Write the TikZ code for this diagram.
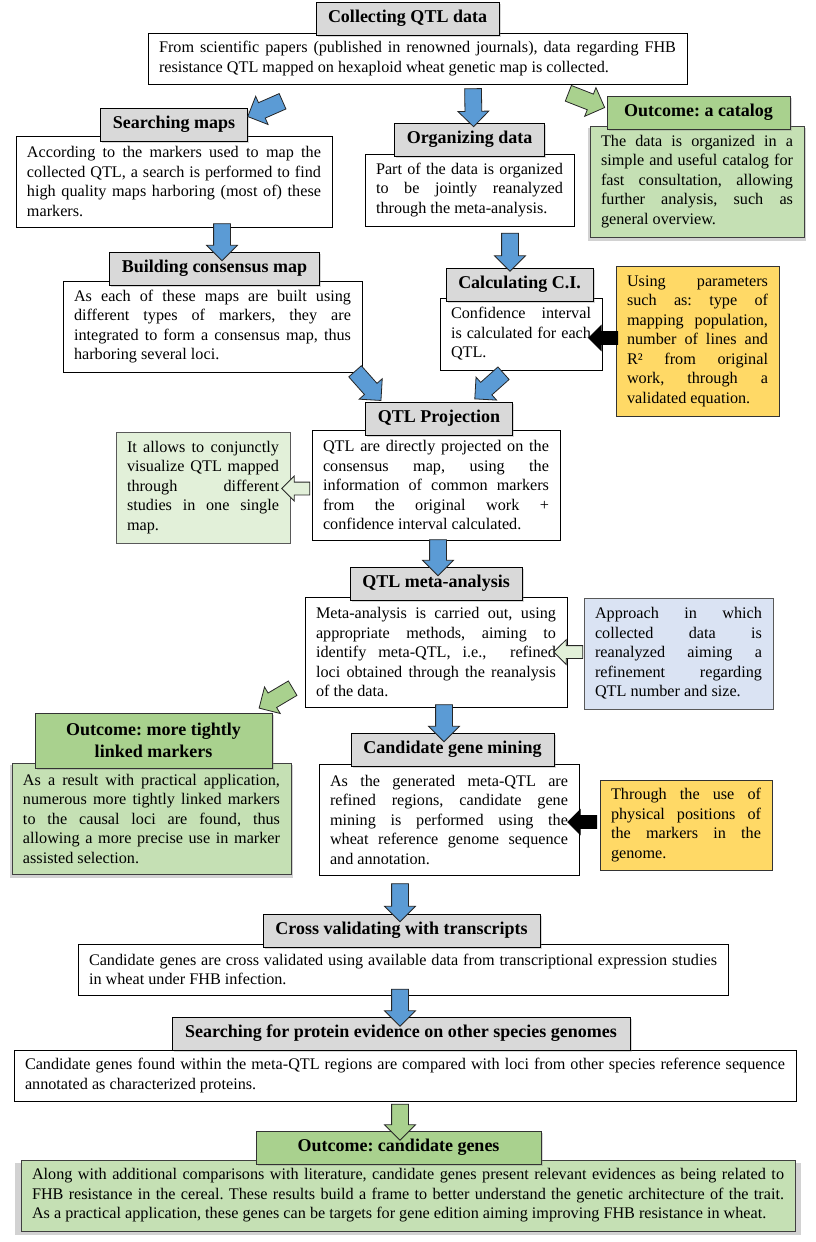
\documentclass[tikz,border=0pt]{standalone}
\usepackage{fontspec}
\setmainfont{Liberation Serif}
\usetikzlibrary{positioning,shapes.arrows,shadows}
\hyphenpenalty=10000
\exhyphenpenalty=10000
\tolerance=9999
\emergencystretch=30pt
\frenchspacing

\definecolor{headgray}{HTML}{D9D9D9}
\definecolor{outgreen}{HTML}{A9D18E}
\definecolor{catgreen}{HTML}{C5E0B4}
\definecolor{notegreen}{HTML}{E2F0D9}
\definecolor{noteblue}{HTML}{DAE3F3}
\definecolor{noteyellow}{HTML}{FFD966}
\definecolor{arrowblue}{HTML}{5B9BD5}

\tikzset{
  body/.style={draw=black, line width=1pt, fill=white, inner xsep=11pt, inner ysep=1pt,
    align=justify, font={\fontsize{16.2}{19.5}\selectfont}},
  outbody/.style={body, fill=catgreen, draw=black!75,
    drop shadow={opacity=.35, shadow xshift=0pt, shadow yshift=-3pt, shadow scale=1.015}},
  notebox/.style={body, draw=black!65},
  head/.style={draw=black, line width=1pt, fill=headgray, inner xsep=12pt, inner ysep=1pt,
    minimum height=33pt, align=center, font={\fontsize{18}{21.5}\selectfont\bfseries},
    drop shadow={opacity=.3, shadow xshift=1.5pt, shadow yshift=-1.5pt}},
  outhead/.style={head, fill=outgreen, draw=black!80},
  fatarrow/.style={single arrow, draw=black!85, line width=.8pt, inner sep=0pt, inner ysep=8pt,
    single arrow head extend=7pt, single arrow tip angle=90, single arrow head indent=0pt,
    minimum width=0pt, midway, sloped, allow upside down},
  bluearrow/.style={fatarrow, fill=arrowblue},
  greenarrow/.style={fatarrow, fill=outgreen},
  thinarrow/.style={fatarrow, inner ysep=6pt, single arrow head extend=6pt},
  blackarrow/.style={thinarrow, fill=black, draw=black},
  hollowarrow/.style={thinarrow, fill=notegreen},
}

\begin{document}
\begin{tikzpicture}[x=1pt,y=-1pt]
  \path[fill=white] (0,0) rectangle (816,1242);

  % collecting
  \node[body, text width=517pt, minimum height=51pt] (collect) at (417.5,58.5)
    {From scientific papers (published in renowned journals), data regarding FHB resistance QTL mapped on hexaploid wheat genetic map is collected.};
  \node[head, minimum width=181pt, above=-3pt of collect.north, xshift=-10pt] (collecthead) {Collecting QTL data};

  % three branches
  \node[body, text width=294pt, minimum height=91pt] (smap) at (174,181.5)
    {According to the markers used to map the collected QTL, a search is performed to find high quality maps harboring (most of) these markers.};
  \node[head, minimum width=147pt, above=-6pt of smap.north] (smaphead) {Searching maps};

  \node[body, text width=187pt, minimum height=72pt] (org) at (469.5,190)
    {Part of the data is organized to be jointly reanalyzed through the meta-analysis.};
  \node[head, minimum width=150pt, above=-3pt of org.north] (orghead) {Organizing data};

  \node[outbody, text width=192pt, minimum height=111pt] (catalog) at (697,181.5)
    {The data is organized in a simple and useful catalog for fast consultation, allowing further analysis, such as general overview.};
  \node[outhead, minimum width=183pt, above=-4pt of catalog.north, xshift=1.5pt] (cathead) {Outcome: a catalog};

  % consensus and C.I.
  \node[body, text width=277pt, minimum height=91pt] (build) at (212.5,326.5)
    {As each of these maps are built using different types of markers, they are integrated to form a consensus map, thus harboring several loci.};
  \node[head, minimum width=209pt, above=-5pt of build.north, xshift=2pt] (buildhead) {Building consensus map};

  \node[body, text width=140pt, minimum height=72pt] (ci) at (521,334)
    {Confidence interval is calculated for each QTL.};
  \node[head, minimum width=147pt, above=-4pt of ci.north, xshift=-1.5pt] (cihead) {Calculating C.I.};

  \node[notebox, fill=noteyellow, draw=black!80, text width=141pt, minimum height=150pt] (yel1) at (697.5,341)
    {Using parameters such as: type of mapping population, number of lines and R² from original work, through a validated equation.};

  % projection
  \node[body, text width=226pt, minimum height=110pt] (proj) at (436,485)
    {QTL are directly projected on the\linebreak consensus map, using the\linebreak information of common markers\linebreak from the original work +\linebreak confidence interval calculated.};
  \node[head, minimum width=146pt, above=-6pt of proj.north, xshift=3pt] (projhead) {QTL Projection};

  \node[notebox, fill=notegreen, text width=152pt, minimum height=111pt] (note) at (203,487.5)
    {It allows to conjunctly visualize QTL mapped through different studies in one single map.};

  % meta-analysis
  \node[body, text width=240pt, minimum height=110pt] (meta) at (436,652)
    {Meta-analysis is carried out, using appropriate methods, aiming to identify meta-QTL, i.e.,~ refined\linebreak loci obtained through the reanalysis\linebreak of the data.};
  \node[head, minimum width=172pt, above=-4pt of meta.north] (metahead) {QTL meta-analysis};

  \node[notebox, fill=noteblue, text width=167pt, minimum height=111pt] (bnote) at (678.5,653.5)
    {Approach in which collected data is reanalyzed aiming a refinement regarding QTL number and size.};

  % markers and candidates
  \node[outbody, text width=257pt, minimum height=111pt] (tight) at (151.5,818.5)
    {As a result with practical application, numerous more tightly linked markers to the causal loci are found, thus allowing a more precise use in marker assisted selection.};
  \node[outhead, minimum width=237pt, minimum height=55pt, above=-6pt of tight.north, xshift=2pt] (tighthead) {Outcome: more tightly\\linked markers};

  \node[body, text width=238pt, minimum height=111pt] (cand) at (449,819.5)
    {As the generated meta-QTL are refined regions, candidate gene mining is performed using the\linebreak wheat reference genome sequence and annotation.};
  \node[head, minimum width=203pt, above=-3pt of cand.north, xshift=3.5pt] (candhead) {Candidate gene mining};

  \node[notebox, fill=noteyellow, draw=black!80, text width=150pt, minimum height=90pt] (yel2) at (686,825)
    {Through the use of physical positions of the markers in the genome.};

  % validation
  \node[body, text width=628pt, minimum height=51pt] (cross) at (403,969.5)
    {Candidate genes are cross validated using available data from transcriptional expression studies in wheat under FHB infection.};
  \node[head, minimum width=277pt, above=-4pt of cross.north, xshift=-1.5pt] (crosshead) {Cross validating with transcripts};

  \node[body, text width=760pt, minimum height=51pt] (protein) at (405,1075.5)
    {Candidate genes found within the meta-QTL regions are compared with loci from other species reference sequence annotated as characterized proteins.};
  \node[head, minimum width=458pt, above=-1pt of protein.north, xshift=-4pt] (protehead) {Searching for protein evidence on other species genomes};

  \node[outbody, text width=752pt, minimum height=71pt] (final) at (408,1195.5)
    {Along with additional comparisons with literature, candidate genes present relevant evidences as being related to FHB resistance in the cereal. These results build a frame to better understand the genetic architecture of the trait.\linebreak As a practical application, these genes can be targets for gene edition aiming improving FHB resistance in wheat.};
  \node[outhead, minimum width=285pt, above=-5pt of final.north, xshift=-9.5pt] (finalhead) {Outcome: candidate genes};

  % block arrows
  \path ([shift={(-132,15.5)}]collect.south) -- ([shift={(4.5,7)}]smaphead.north east) node[bluearrow, minimum height=38pt] {};
  \path ([shift={(55.5,1)}]collect.south) -- ([shift={(4,-1)}]orghead.north) node[bluearrow, minimum height=38pt] {};
  \path ([shift={(-122.5,7.5)}]collect.south east) -- ([shift={(-6.3,10.3)}]cathead.north west) node[greenarrow, minimum height=39pt] {};
  \path ([shift={(48,-7)}]smap.south) -- ([shift={(7.5,4)}]buildhead.north) node[bluearrow, minimum height=37pt] {};
  \path ([shift={(40.5,3)}]org.south) -- ([shift={(-9.5,-1)}]cihead.north) node[bluearrow, minimum height=38pt] {};
  \path ([shift={(-9.5,-3.5)}]build.south east) -- ([shift={(12,-5)}]projhead.north west) node[bluearrow, minimum height=39pt] {};
  \path ([shift={(-15,0.5)}]ci.south) -- ([shift={(-34,-6)}]projhead.north east) node[bluearrow, minimum height=38.5pt] {};
  \path ([shift={(5,-3)}]yel1.west) -- ([shift={(-10,4)}]ci.east) node[blackarrow, minimum height=29pt] {};
  \path ([shift={(1,3.5)}]proj.west) -- ([shift={(-5,1)}]note.east) node[hollowarrow, minimum height=28pt] {};
  \path ([shift={(2,-4)}]proj.south) -- ([shift={(2,4)}]metahead.north) node[bluearrow, minimum height=36pt] {};
  \path ([shift={(2,-1.5)}]bnote.west) -- ([shift={(-10,0)}]meta.east) node[hollowarrow, minimum height=29pt] {};
  \path ([shift={(-9,-21)}]meta.south west) -- ([shift={(-9,-7)}]tighthead.north east) node[greenarrow, minimum height=39pt] {};
  \path ([shift={(8,-5)}]meta.south) -- ([shift={(-8.5,3)}]candhead.north) node[bluearrow, minimum height=37pt] {};
  \path ([shift={(0,-3)}]yel2.west) -- ([shift={(-8,2.5)}]cand.east) node[blackarrow, minimum height=29pt] {};
  \path ([shift={(-49,5)}]cand.south) -- ([shift={(-1.5,3)}]crosshead.north) node[bluearrow, minimum height=38pt] {};
  \path ([shift={(-3,-9)}]cross.south) -- ([shift={(-1,4)}]protehead.north) node[bluearrow, minimum height=37pt] {};
  \path ([shift={(-5,-1)}]protein.south) -- ([shift={(1.5,5)}]finalhead.north) node[greenarrow, minimum height=36pt] {};
\end{tikzpicture}
\end{document}
